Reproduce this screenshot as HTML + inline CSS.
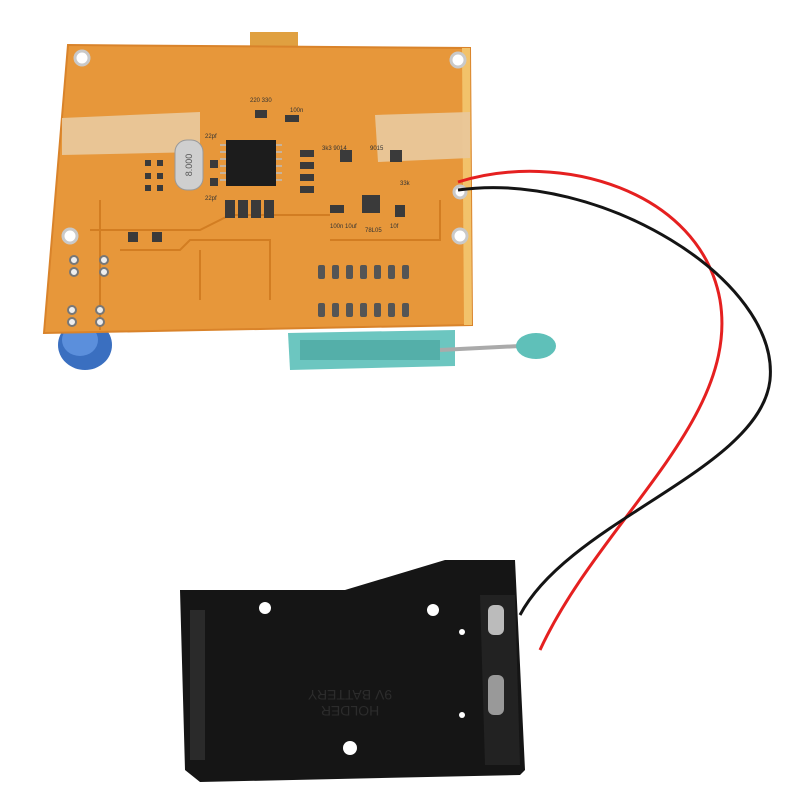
<!DOCTYPE html>
<html><head><meta charset="utf-8"><style>html,body{margin:0;padding:0;background:#fff;width:800px;height:800px;overflow:hidden}</style></head>
<body>
<svg width="800" height="800" viewBox="0 0 800 800" xmlns="http://www.w3.org/2000/svg">
<rect width="800" height="800" fill="#fff"/>
<!-- blue knob -->
<ellipse cx="85" cy="345" rx="27" ry="25" fill="#3a6fc0"/>
<ellipse cx="80" cy="340" rx="18" ry="16" fill="#5b8fdc"/>
<!-- ribbon -->
<rect x="250" y="32" width="48" height="16" fill="#e0a040"/>
<!-- PCB -->
<polygon points="68,45 470,48 472,325 44,333" fill="#e7973a" stroke="#d9832a" stroke-width="2"/>
<polygon points="462,48 470,48 472,325 464,325" fill="#f2c26a"/>
<!-- traces -->
<g stroke="#d27d22" stroke-width="2" fill="none">
<path d="M90,230 L200,230 L230,215 L330,215"/>
<path d="M120,250 L180,250 L190,240 L270,240 L270,300"/>
<path d="M100,200 L100,330"/>
<path d="M200,300 L200,250"/>
<path d="M330,240 L440,240 L440,200"/>
</g>
<!-- tapes -->
<polygon points="62,118 200,112 200,152 62,155" fill="#e9c79a" opacity="0.95"/>
<polygon points="375,115 470,112 470,158 378,162" fill="#e9c79a" opacity="0.95"/>
<!-- mounting holes -->
<g fill="#fff" stroke="#c9c9c9" stroke-width="3">
<circle cx="82" cy="58" r="7"/><circle cx="458" cy="60" r="7"/>
<circle cx="70" cy="236" r="7"/><circle cx="460" cy="236" r="7"/>
<circle cx="460" cy="192" r="6"/>
</g>
<!-- chip -->
<rect x="226" y="140" width="50" height="46" fill="#1c1c1c"/>
<g stroke="#bbb" stroke-width="1.5">
<path d="M220,145 H226 M220,152 H226 M220,159 H226 M220,166 H226 M220,173 H226 M220,180 H226 M276,145 H282 M276,152 H282 M276,159 H282 M276,166 H282 M276,173 H282 M276,180 H282"/>
</g>
<!-- crystal -->
<rect x="175" y="140" width="28" height="50" rx="12" fill="#cfcfcf" stroke="#999"/>
<text x="189" y="168" font-family="Liberation Sans,sans-serif" font-size="9" fill="#555" text-anchor="middle" transform="rotate(-90 189 165)">8.000</text>
<!-- small components -->
<g fill="#3a3a3a">
<rect x="225" y="200" width="10" height="18"/><rect x="238" y="200" width="10" height="18"/><rect x="251" y="200" width="10" height="18"/><rect x="264" y="200" width="10" height="18"/>
<rect x="300" y="150" width="14" height="7"/><rect x="300" y="162" width="14" height="7"/><rect x="300" y="174" width="14" height="7"/><rect x="300" y="186" width="14" height="7"/>
<rect x="340" y="150" width="12" height="12"/><rect x="390" y="150" width="12" height="12"/>
<rect x="362" y="195" width="18" height="18"/>
<rect x="330" y="205" width="14" height="8"/><rect x="395" y="205" width="10" height="12"/>
<rect x="255" y="110" width="12" height="8"/><rect x="285" y="115" width="14" height="7"/>
<rect x="210" y="160" width="8" height="8"/><rect x="210" y="178" width="8" height="8"/>
<rect x="145" y="160" width="6" height="6"/><rect x="157" y="160" width="6" height="6"/><rect x="145" y="173" width="6" height="6"/><rect x="157" y="173" width="6" height="6"/><rect x="145" y="185" width="6" height="6"/><rect x="157" y="185" width="6" height="6"/>
<rect x="128" y="232" width="10" height="10"/><rect x="152" y="232" width="10" height="10"/>
</g>
<g font-family="Liberation Sans,sans-serif" font-size="6" fill="#333">
<text x="250" y="102">220 330</text><text x="290" y="112">100n</text><text x="205" y="138">22pf</text><text x="205" y="200">22pf</text>
<text x="322" y="150">3k3 9014</text><text x="370" y="150">9015</text><text x="330" y="228">100n 10uf</text><text x="365" y="232">78L05</text>
<text x="400" y="185">33k</text><text x="390" y="228">10f</text>
</g>
<!-- header pads -->
<g fill="#555">
<rect x="318" y="265" width="7" height="14" rx="2"/><rect x="332" y="265" width="7" height="14" rx="2"/><rect x="346" y="265" width="7" height="14" rx="2"/><rect x="360" y="265" width="7" height="14" rx="2"/><rect x="374" y="265" width="7" height="14" rx="2"/><rect x="388" y="265" width="7" height="14" rx="2"/><rect x="402" y="265" width="7" height="14" rx="2"/>
<rect x="318" y="303" width="7" height="14" rx="2"/><rect x="332" y="303" width="7" height="14" rx="2"/><rect x="346" y="303" width="7" height="14" rx="2"/><rect x="360" y="303" width="7" height="14" rx="2"/><rect x="374" y="303" width="7" height="14" rx="2"/><rect x="388" y="303" width="7" height="14" rx="2"/><rect x="402" y="303" width="7" height="14" rx="2"/>
</g>
<g fill="#eee" stroke="#777" stroke-width="2">
<circle cx="74" cy="260" r="4"/><circle cx="74" cy="272" r="4"/><circle cx="104" cy="260" r="4"/><circle cx="104" cy="272" r="4"/>
<circle cx="72" cy="310" r="4"/><circle cx="72" cy="322" r="4"/><circle cx="100" cy="310" r="4"/><circle cx="100" cy="322" r="4"/>
</g>
<!-- ZIF socket -->
<polygon points="288,333 455,330 455,366 290,370" fill="#6cc6c0"/>
<rect x="300" y="340" width="140" height="20" fill="#54afa9"/>
<line x1="440" y1="350" x2="520" y2="346" stroke="#aaa" stroke-width="4"/>
<ellipse cx="536" cy="346" rx="20" ry="13" fill="#5fc0b9"/>
<!-- wires -->
<path d="M458,182 C560,150 700,190 720,300 C740,420 600,520 540,650" fill="none" stroke="#e52020" stroke-width="3"/>
<path d="M458,190 C600,170 780,280 770,380 C760,470 570,520 520,615" fill="none" stroke="#141414" stroke-width="3"/>
<!-- battery holder -->
<polygon points="180,590 345,590 445,560 515,560 525,770 520,775 200,782 185,770" fill="#151515"/>
<polygon points="190,610 205,610 205,760 190,760" fill="#2a2a2a"/>
<polygon points="480,595 515,595 520,765 485,765" fill="#222"/>
<rect x="488" y="605" width="16" height="30" rx="6" fill="#bbb"/>
<rect x="488" y="675" width="16" height="40" rx="6" fill="#999"/>
<g fill="#fff"><circle cx="265" cy="608" r="6"/><circle cx="433" cy="610" r="6"/><circle cx="350" cy="748" r="7"/><circle cx="462" cy="632" r="3"/><circle cx="462" cy="715" r="3"/></g>
<text x="350" y="700" font-family="Liberation Sans,sans-serif" font-size="14" fill="#2c2c2c" text-anchor="middle" transform="rotate(180 350 695)">9V BATTERY</text>
<text x="350" y="716" font-family="Liberation Sans,sans-serif" font-size="14" fill="#2c2c2c" text-anchor="middle" transform="rotate(180 350 711)">HOLDER</text>
</svg>
</body></html>
